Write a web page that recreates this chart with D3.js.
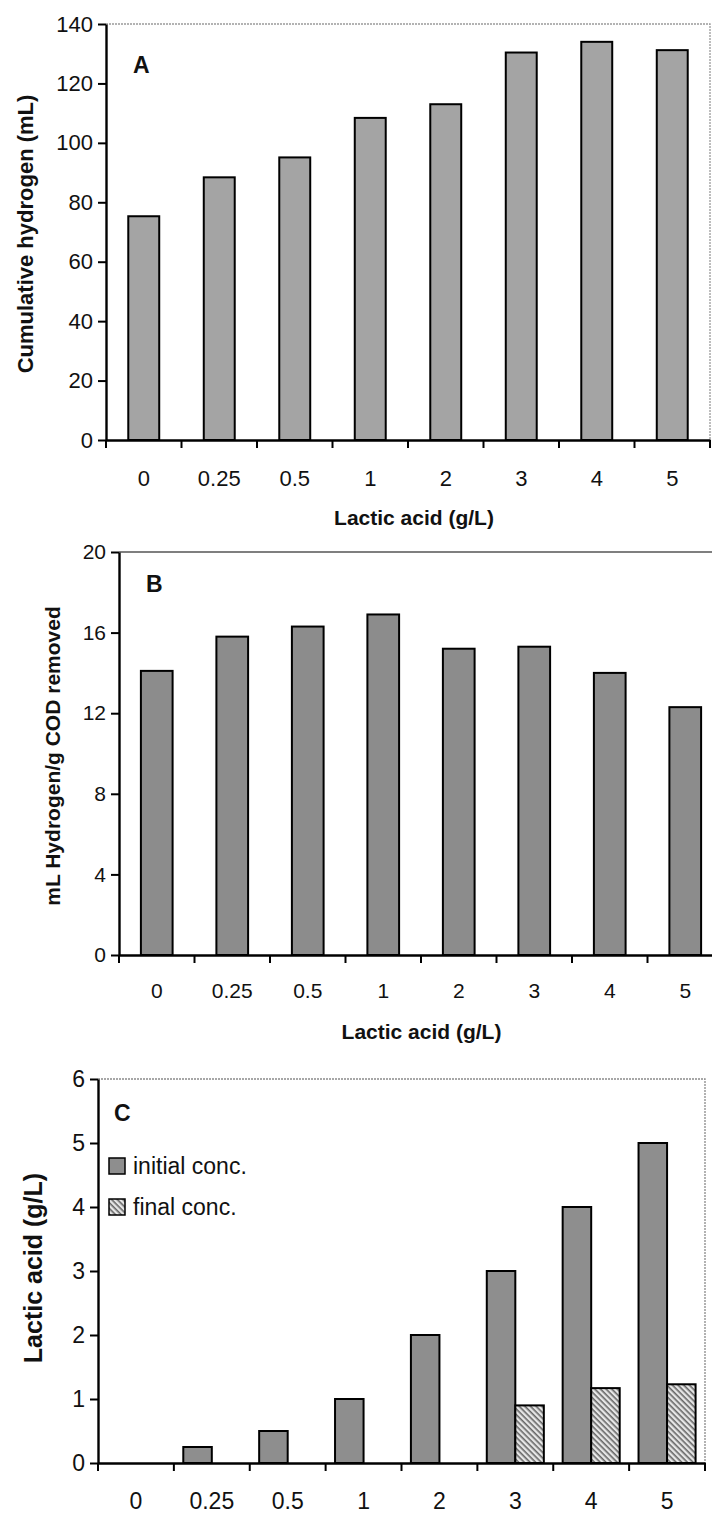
<!DOCTYPE html>
<html>
<head>
<meta charset="utf-8">
<script src="https://cdn.jsdelivr.net/npm/d3@7"></script>
<style>
  body { margin: 0; background: #fff; }
  svg text { font-family: "Liberation Sans", Arial, sans-serif; fill: #111; }
  .ttl { font-weight: bold; }
</style>
</head>
<body>
<script>
// lactic acid dose categories (g/L)
var categories = ["0", "0.25", "0.5", "1", "2", "3", "4", "5"];

// panel A: cumulative hydrogen (mL)
var cumHydrogen = [75.3, 88.4, 95.1, 108.4, 113, 130.4, 134, 131.2];
var ticksA = [0, 20, 40, 60, 80, 100, 120, 140];

// panel B: mL hydrogen / g COD removed
var yieldCOD = [14.1, 15.8, 16.3, 16.9, 15.2, 15.3, 14.0, 12.3];
var ticksB = [0, 4, 8, 12, 16, 20];

// panel C: lactic acid concentrations (g/L)
var initialConc = [0, 0.25, 0.5, 1, 2, 3, 4, 5];
var finalConc = [0, 0, 0, 0, 0, 0.9, 1.17, 1.23];
var ticksC = [0, 1, 2, 3, 4, 5, 6];
var seriesC = ["initial conc.", "final conc."];

var svg = d3.select("body").append("svg")
    .attr("width", 712)
    .attr("height", 1514);

var defs = svg.append("defs");
var hatch = defs.append("pattern")
    .attr("id", "hatch")
    .attr("patternUnits", "userSpaceOnUse")
    .attr("width", 4).attr("height", 4)
    .attr("patternTransform", "rotate(45)");
hatch.append("rect").attr("width", 4).attr("height", 4).attr("fill", "#e6e6e6");
hatch.append("rect").attr("width", 4).attr("height", 1.6).attr("fill", "#666");

// draws the frame + axes of one panel, returns the scales
function panel(opt) {
  var g = svg.append("g");
  var x = d3.scaleBand().domain(categories).range([opt.left, opt.right]);
  var y = d3.scaleLinear().domain([0, d3.max(opt.ticks)]).range([opt.bottom, opt.top]);

  // light plot-area border (top + right)
  g.append("path")
      .attr("d", "M" + opt.left + "," + opt.top + "H" + opt.right + "V" + opt.bottom)
      .attr("fill", "none")
      .attr("stroke", opt.frame)
      .attr("stroke-width", 1.3)
      .attr("stroke-dasharray", opt.dash);

  g.append("g")
      .attr("transform", "translate(" + opt.left + ",0)")
      .call(d3.axisLeft(y).tickValues(opt.ticks).tickFormat(d3.format("d"))
        .tickSize(8).tickSizeOuter(0).tickPadding(5));
  var xa = g.append("g")
      .attr("transform", "translate(0," + opt.bottom + ")")
      .call(d3.axisBottom(x).tickSize(0).tickPadding(opt.labelPad));

  // ticks between categories
  xa.selectAll(".sep")
      .data(categories.concat(["end"]))
      .enter().append("line")
      .attr("class", "sep")
      .attr("x1", function(d, i) { return opt.left + i * x.step(); })
      .attr("x2", function(d, i) { return opt.left + i * x.step(); })
      .attr("y1", 0).attr("y2", 8)
      .attr("stroke", "#000").attr("stroke-width", 2);

  g.selectAll(".domain").attr("stroke", "#000").attr("stroke-width", 2.4);
  g.selectAll(".tick line").attr("stroke", "#000").attr("stroke-width", 2);
  g.selectAll(".tick text")
      .attr("fill", "#111")
      .style("font-size", opt.tickSize + "px");

  // axis titles
  g.append("text")
      .attr("class", "ttl")
      .attr("transform", "translate(" + opt.yTitleX + "," + opt.yTitleY + ") rotate(-90)")
      .attr("text-anchor", "middle")
      .attr("dy", "0.35em")
      .style("font-size", opt.yTitleSize + "px")
      .text(opt.yTitle);
  if (opt.xTitle) {
    g.append("text")
        .attr("class", "ttl")
        .attr("x", (opt.left + Math.min(opt.right, 712)) / 2 + 6)
        .attr("y", opt.xTitleY)
        .attr("dy", "0.35em")
        .attr("text-anchor", "middle")
        .style("font-size", "21px")
        .text(opt.xTitle);
  }
  g.append("text")
      .attr("class", "ttl")
      .attr("x", opt.tagX).attr("y", opt.tagY)
      .attr("dy", "0.35em")
      .style("font-size", "23px")
      .text(opt.tag);

  return {g: g, x: x, y: y, bottom: opt.bottom};
}

// ---- A ----
var A = panel({left: 106, right: 710, top: 24, bottom: 440, ticks: ticksA,
  frame: "#9a9a9a", dash: "2,1", labelPad: 30, tickSize: 22,
  yTitle: "Cumulative hydrogen (mL)", yTitleX: 25, yTitleY: 234, yTitleSize: 22,
  xTitle: "Lactic acid (g/L)", xTitleY: 518, tag: "A", tagX: 133, tagY: 65});

A.g.selectAll(".bar")
    .data(cumHydrogen)
    .enter().append("rect")
    .attr("class", "bar")
    .attr("x", function(d, i) { return A.x(categories[i]) + A.x.bandwidth() * 0.295; })
    .attr("width", A.x.bandwidth() * 0.41)
    .attr("y", function(d) { return A.y(d); })
    .attr("height", function(d) { return A.bottom - A.y(d); })
    .attr("fill", "#a4a4a4")
    .attr("stroke", "#000").attr("stroke-width", 2);

// ---- B ----
var B = panel({left: 119, right: 723, top: 552, bottom: 955, ticks: ticksB,
  frame: "#555", dash: null, labelPad: 28, tickSize: 21,
  yTitle: "mL Hydrogen/g COD removed", yTitleX: 53, yTitleY: 756, yTitleSize: 21,
  xTitle: "Lactic acid (g/L)", xTitleY: 1032, tag: "B", tagX: 146, tagY: 584});

B.g.selectAll(".bar")
    .data(yieldCOD)
    .enter().append("rect")
    .attr("class", "bar")
    .attr("x", function(d, i) { return B.x(categories[i]) + B.x.bandwidth() * 0.29; })
    .attr("width", B.x.bandwidth() * 0.42)
    .attr("y", function(d) { return B.y(d); })
    .attr("height", function(d) { return B.bottom - B.y(d); })
    .attr("fill", "#8c8c8c")
    .attr("stroke", "#000").attr("stroke-width", 2);

// ---- C ----
var C = panel({left: 98, right: 705, top: 1079, bottom: 1463, ticks: ticksC,
  frame: "#8a8a8a", dash: "2,1", labelPad: 30, tickSize: 23,
  yTitle: "Lactic acid (g/L)", yTitleX: 33, yTitleY: 1268, yTitleSize: 25,
  xTitle: null, tag: "C", tagX: 114, tagY: 1113});

var x1 = d3.scaleBand().domain(seriesC).range([0, C.x.bandwidth()]).paddingOuter(0.33).paddingInner(0);
var fills = {"initial conc.": "#8e8e8e", "final conc.": "url(#hatch)"};
var rows = categories.map(function(c, i) {
  return [{s: seriesC[0], c: c, v: initialConc[i]}, {s: seriesC[1], c: c, v: finalConc[i]}];
});

C.g.selectAll(".grp")
    .data(rows)
    .enter().append("g")
    .attr("class", "grp")
    .attr("transform", function(d, i) { return "translate(" + C.x(categories[i]) + ",0)"; })
    .selectAll("rect")
    .data(function(d) { return d.filter(function(e) { return e.v > 0; }); })
    .enter().append("rect")
    .attr("x", function(d) { return x1(d.s); })
    .attr("width", x1.bandwidth())
    .attr("y", function(d) { return C.y(d.v); })
    .attr("height", function(d) { return C.bottom - C.y(d.v); })
    .attr("fill", function(d) { return fills[d.s]; })
    .attr("stroke", "#000").attr("stroke-width", 2);

// legend
var leg = C.g.selectAll(".leg")
    .data(seriesC)
    .enter().append("g")
    .attr("class", "leg")
    .attr("transform", function(d, i) { return "translate(109," + (1166 + i * 41) + ")"; });
leg.append("rect")
    .attr("x", 0).attr("y", -8).attr("width", 16).attr("height", 16)
    .attr("fill", function(d) { return fills[d]; })
    .attr("stroke", "#000").attr("stroke-width", 1.5);
leg.append("text")
    .attr("x", 24).attr("dy", "0.35em")
    .style("font-size", "23px")
    .text(function(d) { return d; });
</script>
</body>
</html>
